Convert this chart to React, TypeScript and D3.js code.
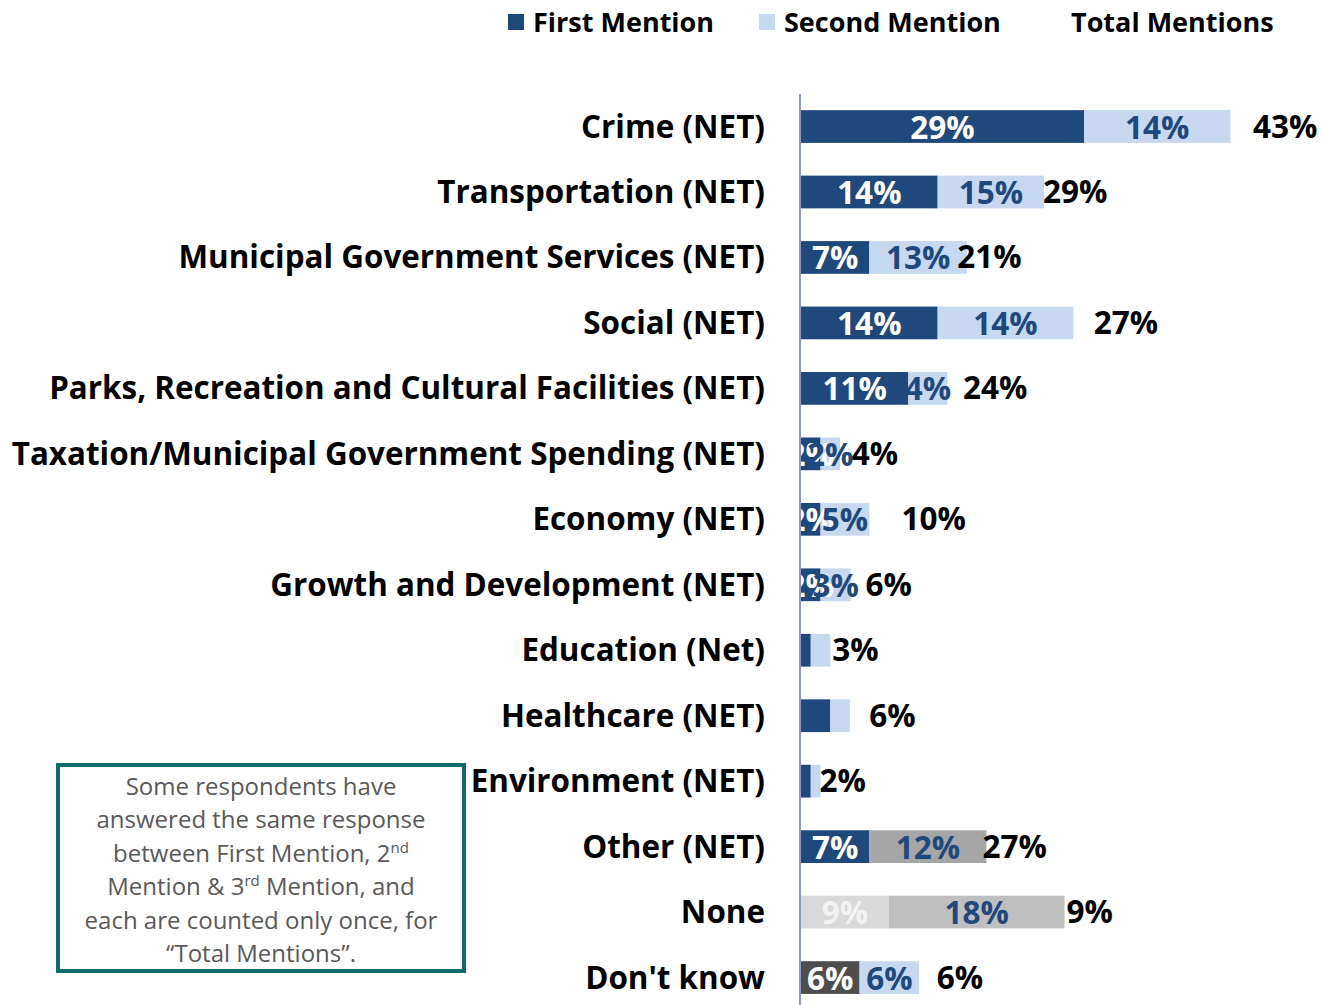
import { useMemo } from 'react';
import * as d3 from 'd3';

const categories = [
  'Crime (NET)',
  'Transportation (NET)',
  'Municipal Government Services (NET)',
  'Social (NET)',
  'Parks, Recreation and Cultural Facilities (NET)',
  'Taxation/Municipal Government Spending (NET)',
  'Economy (NET)',
  'Growth and Development (NET)',
  'Education (Net)',
  'Healthcare (NET)',
  'Environment (NET)',
  'Other (NET)',
  'None',
  "Don't know",
];

// bar lengths as drawn (percent)
const firstValues = [29, 14, 7, 14, 11, 2, 2, 2, 1, 3, 1, 7, 9, 6];
const secondValues = [15, 10.9, 10, 13.9, 4, 2, 5, 3.1, 2, 2, 1, 12, 18, 6.1];

// data label text
const firstLabels = ['29%', '14%', '7%', '14%', '11%', '2%', '2%', '2%', '', '', '', '7%', '9%', '6%'];
const secondLabels = ['14%', '15%', '13%', '14%', '4%', '2%', '5%', '3%', '', '', '', '12%', '18%', '6%'];
const totalLabels = ['43%', '29%', '21%', '27%', '24%', '4%', '10%', '6%', '3%', '6%', '2%', '27%', '9%', '6%'];
// where the total label sits on the value axis (hidden series)
const totalAnchor = [46.3, 24.8, 16.0, 30.0, 16.6, 5.2, 10.3, 6.6, 3.2, 7.0, 1.9, 18.6, 27.2, 13.9];

const firstColors = ['#1f497d', '#1f497d', '#1f497d', '#1f497d', '#1f497d', '#1f497d', '#1f497d', '#1f497d', '#1f497d', '#1f497d', '#1f497d', '#1f497d', '#d9d9d9', '#4d4d4d'];
const secondColors = ['#c6d9f1', '#c6d9f1', '#c6d9f1', '#c6d9f1', '#c6d9f1', '#c6d9f1', '#c6d9f1', '#c6d9f1', '#c6d9f1', '#c6d9f1', '#c6d9f1', '#a6a6a6', '#bfbfbf', '#c6d9f1'];
const firstLabelColors = ['#fff', '#fff', '#fff', '#fff', '#fff', '#fff', '#fff', '#fff', '#fff', '#fff', '#fff', '#fff', '#f2f2f2', '#fff'];

const legendItems = [
  { label: 'First Mention', color: '#1f497d' },
  { label: 'Second Mention', color: '#c6d9f1' },
  { label: 'Total Mentions', color: null },
];

const font = "'Open Sans', sans-serif";

export default function App(): React.ReactNode {
  const width = 1321;
  const height = 1005;
  const axisX = 800;

  const { x, y } = useMemo(() => {
    const x = d3.scaleLinear().domain([0, 50]).range([801, 801 + 488]);
    const y = d3.scaleBand<string>().domain(categories).range([93.8, 1010.3]).paddingInner(0.5).paddingOuter(0.25);
    return { x, y };
  }, []);

  const bw = y.bandwidth();
  const legendX = [508, 759, 1071];

  return (
    <svg
      width={width}
      height={height}
      viewBox={`0 0 ${width} ${height}`}
      style={{ position: 'absolute', left: 0, top: 0, background: '#fff' }}
      fontFamily={font}
    >
      <defs>
        <clipPath id="plot">
          <rect x={axisX} y={0} width={width - axisX} height={height} />
        </clipPath>
      </defs>

      {/* legend */}
      {legendItems.map((d, i) => (
        <g key={d.label}>
          {d.color && <rect x={legendX[i]} y={14} width={16} height={16} fill={d.color} />}
          <text x={legendX[i] + (d.color ? 25 : 0)} y={32} fontSize={27} fontWeight={700} fill="#000">
            {d.label}
          </text>
        </g>
      ))}

      {/* category labels */}
      {categories.map((c) => (
        <text
          key={c}
          x={765}
          y={(y(c) ?? 0) + bw / 2 + 11}
          textAnchor="end"
          fontSize={31.4}
          fontWeight={700}
          fill="#000"
        >
          {c}
        </text>
      ))}

      {/* bars */}
      <g clipPath="url(#plot)">
        {categories.map((c, i) => {
          const y0 = y(c) ?? 0;
          const x0 = x(0);
          const x1 = x(firstValues[i]);
          const x2 = x(firstValues[i] + secondValues[i]);
          return (
            <g key={c}>
              <rect x={x0} y={y0} width={x1 - x0} height={bw} fill={firstColors[i]} />
              <rect x={x1} y={y0} width={x2 - x1} height={bw} fill={secondColors[i]} />
            </g>
          );
        })}
        {categories.map((c, i) => {
          const yc = (y(c) ?? 0) + bw / 2 + 12;
          const x0 = x(0);
          const x1 = x(firstValues[i]);
          const x2 = x(firstValues[i] + secondValues[i]);
          return (
            <g key={c} fontSize={31.5} fontWeight={700} textAnchor="middle">
              {firstLabels[i] && (
                <text x={(x0 + x1) / 2} y={yc} fill={firstLabelColors[i]}>
                  {firstLabels[i]}
                </text>
              )}
              {secondLabels[i] && (
                <text x={(x1 + x2) / 2} y={yc} fill="#1f497d">
                  {secondLabels[i]}
                </text>
              )}
            </g>
          );
        })}
        {categories.map((c, i) => (
          <text
            key={c}
            x={x(totalAnchor[i])}
            y={(y(c) ?? 0) + bw / 2 + 11}
            fontSize={31.5}
            fontWeight={700}
            fill="#000"
          >
            {totalLabels[i]}
          </text>
        ))}
      </g>

      {/* axis line */}
      <line x1={axisX} x2={axisX} y1={94} y2={height} stroke="#8e98c8" strokeWidth={2} />

      {/* note box */}
      <rect x={58} y={765} width={406} height={206} fill="#fff" stroke="#0f6b6b" strokeWidth={4} />
      <g fontSize={24} fill="#595959" textAnchor="middle" fontFamily="'Open Sans', sans-serif">
        <text x={261} y={795}>Some respondents have</text>
        <text x={261} y={828}>answered the same response</text>
        <text x={261} y={862}>
          between First Mention, 2<tspan fontSize={15} dy={-9}>nd</tspan>
        </text>
        <text x={261} y={895}>
          Mention &amp; 3<tspan fontSize={15} dy={-9}>rd</tspan>
          <tspan dy={9}> Mention, and</tspan>
        </text>
        <text x={261} y={929}>each are counted only once, for</text>
        <text x={261} y={962}>“Total Mentions”.</text>
      </g>
    </svg>
  );
}
